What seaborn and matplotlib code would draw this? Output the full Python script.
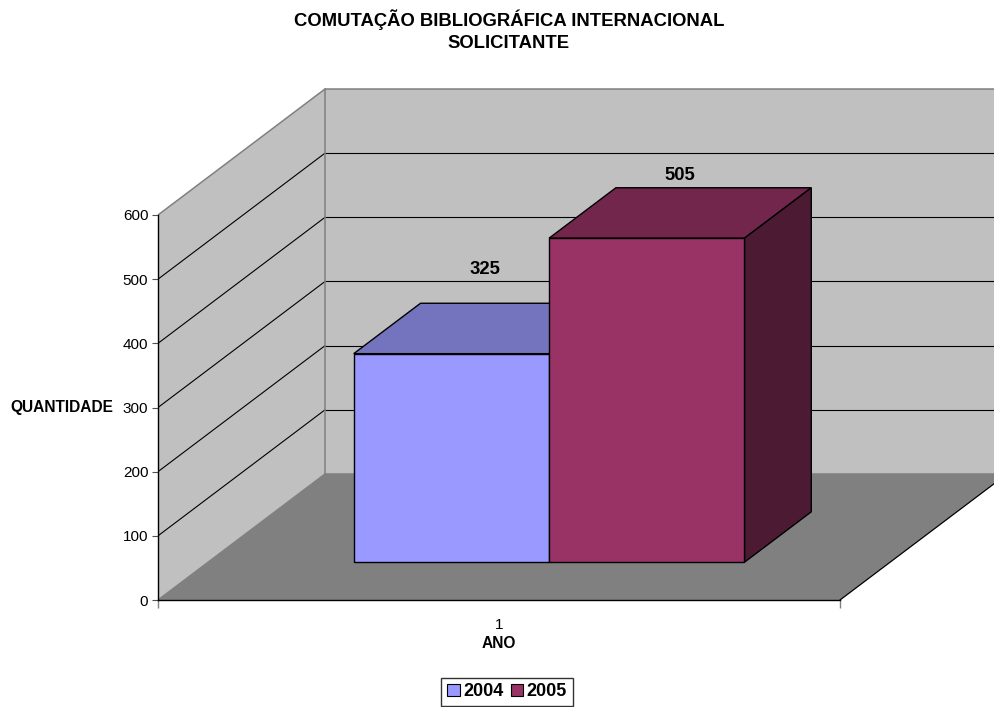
import pandas as pd

import matplotlib
matplotlib.use('AGG')
import matplotlib.pyplot as plt
import matplotlib.transforms as mtransforms
from matplotlib.patches import Polygon, Patch
import seaborn as sns

sns.set_theme(style="white", rc={'text.color': 'black',
                                 'axes.labelcolor': 'black',
                                 'xtick.color': 'black',
                                 'ytick.color': 'black'})
plt.rcParams['font.family'] = ['Liberation Sans', 'DejaVu Sans']

# ---- data -------------------------------------------------------------
titulo = 'COMUTAÇÃO BIBLIOGRÁFICA INTERNACIONAL\nSOLICITANTE'
categorias = ['1']
anos = ['2004', '2005']
quantidade = [325, 505]
y_ticks = [0, 100, 200, 300, 400, 500, 600]

# ---- style ------------------------------------------------------------
cores_frente = ['#9999FF', '#993366']
cores_topo = ['#7474BE', '#72264C']
cores_lado = ['#5C5C99', '#4C1A33']
cor_parede = '#C0C0C0'
cor_chao = '#808080'
cor_borda = '#808080'
label_pad = [24, 9]          # points above the back top edge of each bar

W, H = 995, 707
px_left, px_right = 158, 995  # front-left corner .. figure edge
px_zero, px_top = 600, 86
px_per_val = (600 - 215) / 600.0
px_per_cat = 682.0
DX = 167 / px_per_cat         # one unit of depth, in category units
DY = 126 / px_per_val         # one unit of depth, in value units
prof = (0.3, 0.7)             # depth range of the bars
largura = 0.573

fig = plt.figure(figsize=(W / 100, H / 100), dpi=100)
ax = fig.add_axes([px_left / W, (H - px_zero) / H,
                   (px_right - px_left) / W, (px_zero - px_top) / H])

# ---- front faces via seaborn -----------------------------------------
df = pd.DataFrame({'ANO': categorias * len(anos), 'serie': anos,
                   'QUANTIDADE': quantidade})
sns.barplot(data=df, x='ANO', y='QUANTIDADE', hue='serie', hue_order=anos,
            palette=cores_frente, width=largura, saturation=1, errorbar=None,
            edgecolor='black', linewidth=1.0, zorder=3, legend=False, ax=ax)

x0, x1 = -0.5, 0.5
top = y_ticks[-1]

# walls and floor
ax.add_patch(Polygon([(x0 + DX, DY), (x1 + DX, DY), (x1 + DX, DY + top),
                      (x0 + DX, DY + top)], fc=cor_parede, ec='none', zorder=0))
ax.add_patch(Polygon([(x0, 0), (x0 + DX, DY), (x0 + DX, DY + top), (x0, top)],
                     fc=cor_parede, ec='none', zorder=0))
ax.add_patch(Polygon([(x0, 0), (x1, 0), (x1 + DX, DY), (x0 + DX, DY)],
                     fc=cor_chao, ec='none', zorder=0))

for v in y_ticks[1:-1]:
    ax.plot([x0 + DX, x1 + DX], [v + DY, v + DY], color='black', lw=0.8, zorder=1)
    ax.plot([x0, x0 + DX], [v, v + DY], color='black', lw=0.8, zorder=1)

bordas = [([x0 + DX, x1 + DX], [top + DY, top + DY]),
          ([x0, x0 + DX], [top, top + DY]),
          ([x0 + DX, x0 + DX], [DY, DY + top]),
          ([x0 + DX, x1 + DX], [DY, DY]),
          ([x0, x0 + DX], [0, DY])]
for bx, by in bordas:
    ax.plot(bx, by, color=cor_borda, lw=1.1, zorder=1)
ax.plot([x1, x1 + DX], [0, DY], color='black', lw=0.9, zorder=1)

# ---- shift bars into depth, add top and side faces --------------------
dd = prof[1] - prof[0]
for i, cont in enumerate(ax.containers):
    for rect in cont:
        xl = rect.get_x() + prof[0] * DX
        w = rect.get_width()
        h = rect.get_height()
        b = prof[0] * DY
        rect.set_x(xl)
        rect.set_y(b)
        xr = xl + w
        ax.add_patch(Polygon([(xl, b + h), (xr, b + h),
                              (xr + dd * DX, b + h + dd * DY),
                              (xl + dd * DX, b + h + dd * DY)],
                             fc=cores_topo[i], ec='black', lw=1.0, zorder=2))
        ax.add_patch(Polygon([(xr, b), (xr + dd * DX, b + dd * DY),
                              (xr + dd * DX, b + h + dd * DY), (xr, b + h)],
                             fc=cores_lado[i], ec='black', lw=1.0, zorder=2))
        ax.annotate(f'{quantidade[i]}',
                    xy=(xl + w / 2 + dd * DX / 2, b + h + dd * DY),
                    xytext=(0, label_pad[i]), textcoords='offset points',
                    ha='center', va='center', fontsize=13.3, fontweight='bold',
                    zorder=5)

ax.set_xlim(x0, x0 + (px_right - px_left) / px_per_cat)
ax.set_ylim(0, (px_zero - px_top) / px_per_val)

# ---- axes -------------------------------------------------------------
for s in ['top', 'right']:
    ax.spines[s].set_visible(False)
ax.spines['left'].set_bounds(0, top)
ax.spines['bottom'].set_bounds(x0, x1)
for s in ['left', 'bottom']:
    ax.spines[s].set_color('black')
    ax.spines[s].set_linewidth(1.0)
    ax.spines[s].set_zorder(4)

ax.set_yticks(y_ticks)
ax.tick_params(axis='y', left=True, direction='out', length=4, width=0.8,
               color='#505050', pad=3, labelsize=11, labelcolor='black')
ax.set_xticks([0])
ax.set_xticklabels(categorias)
ax.set_xticks([x0, x1], minor=True)
ax.tick_params(axis='x', which='major', bottom=True, length=0, pad=13,
               labelsize=11, labelcolor='black')
ax.tick_params(axis='x', which='minor', bottom=True, length=6, width=1.0,
               color=cor_borda)

ax.set_ylabel('QUANTIDADE', rotation=0, fontsize=11.2, fontweight='bold',
              ha='right', va='center')
ax.yaxis.set_label_coords(x0, 300, transform=mtransforms.offset_copy(
    ax.transData, fig=fig, x=-45, y=0, units='dots'))
ax.set_xlabel('ANO', fontsize=11.2, fontweight='bold', va='center')
ax.xaxis.set_label_coords(0, 0, transform=mtransforms.offset_copy(
    ax.transData, fig=fig, x=0, y=-43, units='dots'))

fig.text(509 / W, 1 - 31 / H, titulo, ha='center', va='center',
         fontsize=13.3, fontweight='bold', linespacing=1.4)

handles = [Patch(fc=c, ec='black', lw=0.8) for c in cores_frente]
leg = fig.legend(handles, anos, loc='upper center',
                 bbox_to_anchor=(507 / W, 1 - 678 / H), ncol=2, frameon=True,
                 fancybox=False, edgecolor='black',
                 prop={'weight': 'bold', 'size': 13},
                 handlelength=0.7, handleheight=0.7, handletextpad=0.2,
                 columnspacing=0.4, borderpad=0.3, borderaxespad=0)
leg.get_frame().set_linewidth(1.0)

fig.savefig('out.png', dpi=100)
